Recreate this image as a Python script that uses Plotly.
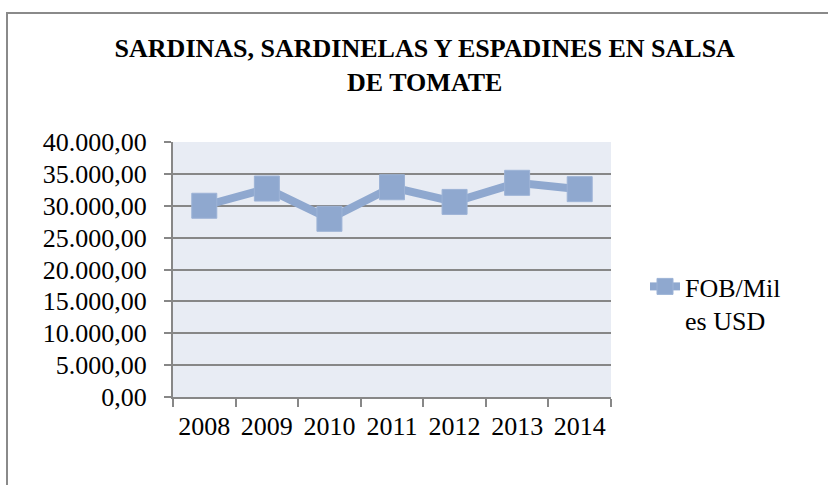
import plotly.graph_objects as go

# ── data ────────────────────────────────────────────────────────────
YEARS = ["2008", "2009", "2010", "2011", "2012", "2013", "2014"]
FOB = [30000, 32700, 27950, 32900, 30600, 33600, 32600]
SERIES_NAME = "FOB/Mil<br>es USD"
TITLE = "SARDINAS, SARDINELAS Y ESPADINES EN SALSA<br>DE TOMATE"
Y_TICKS = [0, 5000, 10000, 15000, 20000, 25000, 30000, 35000, 40000]
Y_LABELS = ["0,00", "5.000,00", "10.000,00", "15.000,00", "20.000,00",
            "25.000,00", "30.000,00", "35.000,00", "40.000,00"]
# ────────────────────────────────────────────────────────────────────

W, H = 828, 485
L, R, T, B = 173, 217, 142, 88
pw, ph = W - L - R, H - T - B

BLUE = "#8FA8CF"
GRID = "#878787"
FONT = "Liberation Serif"

fig = go.Figure()
fig.add_trace(
    go.Scatter(
        x=YEARS,
        y=FOB,
        mode="lines+markers",
        name=SERIES_NAME,
        line=dict(color=BLUE, width=8),
        marker=dict(symbol="square", size=25, color=BLUE,
                    line=dict(color="#9DB3D6", width=1)),
        showlegend=True,
    )
)


def px_x(p):
    return (p - L) / pw


def px_y(p):
    return (H - B - p) / ph


# outer chart frame (top and left edges only visible)
fig.add_shape(type="line", xref="paper", yref="paper",
              x0=px_x(6), x1=px_x(W + 5), y0=px_y(13), y1=px_y(13),
              line=dict(color="#8a8a8a", width=2))
fig.add_shape(type="line", xref="paper", yref="paper",
              x0=px_x(7), x1=px_x(7), y0=px_y(12), y1=px_y(H + 5),
              line=dict(color="#8a8a8a", width=2))

fig.update_xaxes(
    type="category",
    range=[-0.5, 6.5],
    showgrid=False,
    showline=True,
    linecolor=GRID,
    linewidth=2,
    ticks="outside",
    tickson="boundaries",
    ticklen=8,
    tickcolor=GRID,
    tickwidth=2,
    ticklabelstandoff=5,
    tickfont=dict(family=FONT, size=26, color="black"),
)
fig.update_yaxes(
    range=[0, 40000],
    tickvals=Y_TICKS,
    ticktext=Y_LABELS,
    showgrid=True,
    gridcolor=GRID,
    gridwidth=2,
    zeroline=False,
    showline=True,
    linecolor=GRID,
    linewidth=2,
    ticks="outside",
    ticklen=7,
    tickcolor=GRID,
    tickwidth=2,
    ticklabelstandoff=12,
    tickfont=dict(family=FONT, size=26, color="black"),
)

fig.update_layout(
    width=W,
    height=H,
    margin=dict(l=L, r=R, t=T, b=B, autoexpand=False),
    paper_bgcolor="white",
    plot_bgcolor="#E8ECF4",
    font=dict(family=FONT),
    title=dict(
        text="<b>" + TITLE + "</b>",
        x=0.513,
        xanchor="center",
        y=1 - 57 / H,
        yanchor="top",
        font=dict(family=FONT, size=26, color="black"),
    ),
    legend=dict(
        x=px_x(645),
        xanchor="left",
        y=px_y(263),
        yanchor="top",
        valign="top",
        font=dict(family=FONT, size=26, color="black"),
        bgcolor="rgba(0,0,0,0)",
    ),
)

fig.write_html("out.html", config={"displayModeBar": False},
               post_script="document.body.style.margin='0px';")
